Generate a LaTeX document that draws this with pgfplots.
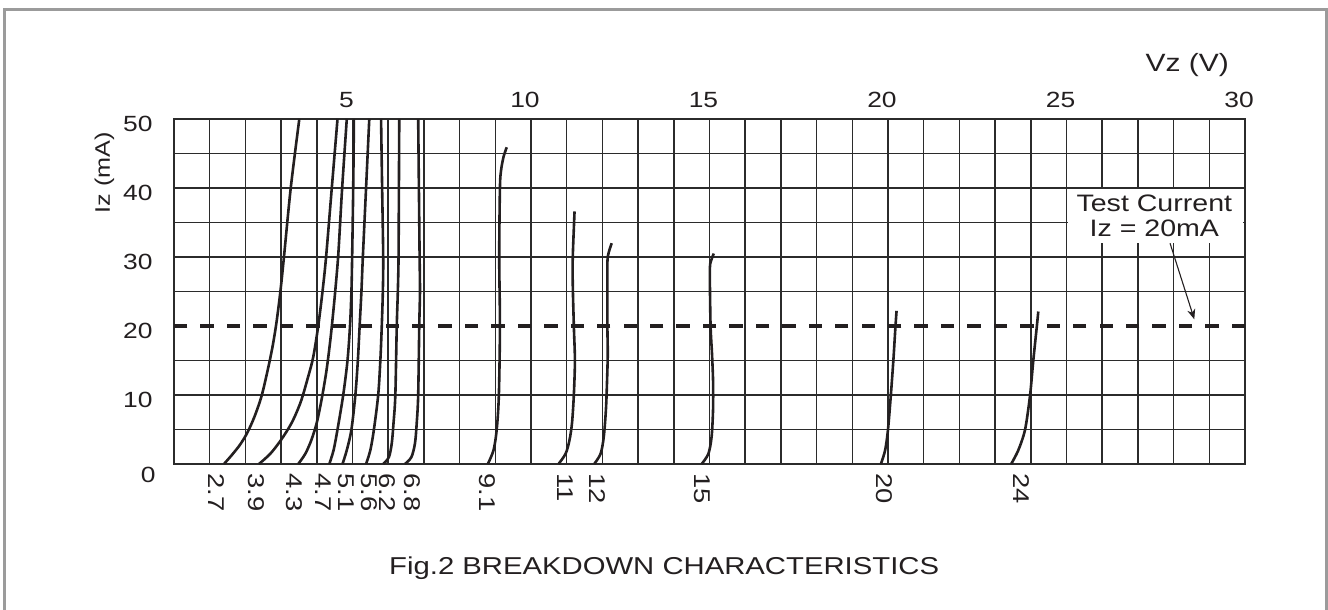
\documentclass[border=0pt]{standalone}
\usepackage{pgfplots}
\pgfplotsset{compat=1.18}
\usepackage{fontspec}
\setmainfont{Liberation Sans}[FakeStretch=1.2]
\usetikzlibrary{arrows.meta}
\definecolor{ink}{HTML}{231F20}
\definecolor{gridc}{HTML}{2B2B2B}
\definecolor{framec}{HTML}{9B9B9B}
\pgfplotsset{zc/.style={draw=ink, line width=1.3pt, smooth, tension=0.5}}

\begin{document}
\begin{tikzpicture}
\useasboundingbox (-87pt,-73pt) rectangle (577pt,232pt);
\draw[framec, line width=1.5pt] (-84.5pt,-90pt) -- (-84.5pt,227pt) -- (576pt,227pt) -- (576pt,-90pt);
\begin{axis}[
  at={(0,0)}, anchor=south west, scale only axis,
  width=535.5pt, height=172.5pt,
  xmin=0, xmax=30, ymin=0, ymax=50,
  xtick={0,1,...,30},
  xticklabels={,,,,,5,,,,,10,,,,,15,,,,,20,,,,,25,,,,,30},
  ytick={0,5,10,15,25,30,35,40,45,50},
  yticklabels={,,10,,,30,,40,,50},
  extra y ticks={20}, extra y tick labels={20},
  extra y tick style={ymajorgrids=false},
  xticklabel pos=upper,
  major tick length=0pt,
  xmajorgrids, ymajorgrids,
  major grid style={gridc, line width=0.75pt},
  axis line style={gridc, line width=0.75pt},
  tick label style={font=\fontsize{11}{13}\selectfont, text=ink},
  xticklabel style={anchor=south, inner sep=0pt, yshift=5.5pt, xshift=-3pt},
  yticklabel style={anchor=east, inner sep=0pt, xshift=-10.5pt, yshift=-2.4pt},
  clip=false,
]
% breakdown curves
\addplot[zc] coordinates {(1.40,0)(1.62,1.3)(1.85,2.8)(2.05,4.5)(2.25,6.8)(2.45,9.8)(2.62,13.5)(2.76,17)(2.87,20.5)(2.98,25)(3.08,30)(3.27,40)(3.51,50)};
\addplot[zc] coordinates {(2.38,0)(2.70,1.5)(3.00,3.5)(3.30,6)(3.55,9)(3.75,12.5)(3.90,15.5)(4.04,20)(4.16,25)(4.26,30)(4.42,40)(4.58,50)};
\addplot[zc] coordinates {(3.48,0)(3.68,1.5)(3.85,3.5)(4.00,6)(4.14,9.5)(4.27,13.5)(4.38,18)(4.47,22.5)(4.55,27)(4.61,31)(4.71,40)(4.84,50)};
\addplot[zc] coordinates {(4.35,0)(4.47,2)(4.58,5)(4.74,10)(4.86,15)(4.93,20)(4.97,25)(4.99,30)(5.02,40)(5.04,50)};
\addplot[zc] coordinates {(4.72,0)(4.84,2)(4.97,5)(5.08,10)(5.15,15)(5.20,20)(5.25,25)(5.29,30)(5.38,40)(5.47,50)};
\addplot[zc] coordinates {(5.38,0)(5.50,2)(5.60,5)(5.72,10)(5.78,15)(5.82,20)(5.85,25)(5.86,30)(5.83,40)(5.80,50)};
\addplot[zc] coordinates {(5.86,0)(6.02,1)(6.10,3)(6.15,6)(6.20,10)(6.24,20)(6.27,25)(6.29,30)(6.30,40)(6.31,50)};
\addplot[zc] coordinates {(6.47,0)(6.65,1)(6.75,3)(6.80,6)(6.84,10)(6.87,20)(6.89,25)(6.88,30)(6.86,40)(6.84,50)};
\addplot[zc] coordinates {(8.79,0)(8.95,2)(9.04,5)(9.10,10)(9.13,20)(9.11,30)(9.13,40)(9.16,42.5)(9.23,44.5)(9.32,45.9)};
\addplot[zc] coordinates {(10.77,0)(10.97,1.5)(11.08,3.5)(11.15,6)(11.20,10)(11.23,15)(11.20,20)(11.17,26)(11.17,30)(11.22,36.6)};
\addplot[zc] coordinates {(11.77,0)(11.95,1.5)(12.04,4)(12.10,8)(12.13,12)(12.15,16)(12.14,20)(12.14,27)(12.15,30)(12.26,32)};
\addplot[zc] coordinates {(14.78,0)(14.97,1.5)(15.06,4)(15.10,8)(15.10,12)(15.07,16)(15.03,20)(15.01,27)(15.02,29)(15.12,30.5)};
\addplot[zc] coordinates {(19.80,0)(19.92,2)(20.00,5)(20.08,10)(20.15,15)(20.21,20)(20.24,22.2)};
\addplot[zc] coordinates {(23.45,0)(23.65,2)(23.84,5)(23.98,10)(24.07,15)(24.17,20)(24.21,22.1)};

% test current line, Iz = 20 mA, drawn as short dashes
\addplot[only marks, mark=-, mark size=3.33pt, mark options={draw=ink, line width=1.7pt}, forget plot] coordinates {
(0.187,20)(0.927,20)(1.668,20)(2.409,20)(3.149,20)(3.890,20)(4.631,20)(5.371,20)(6.112,20)(6.853,20)
(7.594,20)(8.334,20)(9.075,20)(9.816,20)(10.556,20)(11.297,20)(12.038,20)(12.778,20)(13.519,20)(14.260,20)
(15.001,20)(15.741,20)(16.482,20)(17.223,20)(17.963,20)(18.704,20)(19.445,20)(20.186,20)(20.926,20)(21.667,20)
(22.408,20)(23.148,20)(23.889,20)(24.630,20)(25.370,20)(26.111,20)(26.852,20)(27.593,20)(28.333,20)(29.074,20)
(29.815,20)};

% zener voltage labels
\begin{scope}[every node/.style={rotate=-90, anchor=west, inner sep=0pt, text=ink, font=\fontsize{11.4}{13}\selectfont}]
\node at ([yshift=-4.5pt]axis cs:1.20,0) {2.7};
\node at ([yshift=-4.5pt]axis cs:2.32,0) {3.9};
\node at ([yshift=-4.5pt]axis cs:3.36,0) {4.3};
\node at ([yshift=-4.5pt]axis cs:4.17,0) {4.7};
\node at ([yshift=-4.5pt]axis cs:4.82,0) {5.1};
\node at ([yshift=-4.5pt]axis cs:5.46,0) {5.6};
\node at ([yshift=-4.5pt]axis cs:5.97,0) {6.2};
\node at ([yshift=-4.5pt]axis cs:6.69,0) {6.8};
\node at ([yshift=-4.5pt]axis cs:8.77,0) {9.1};
\node at ([yshift=-4.5pt]axis cs:10.95,0) {11};
\node at ([yshift=-4.5pt]axis cs:11.85,0) {12};
\node at ([yshift=-4.5pt]axis cs:14.80,0) {15};
\node at ([yshift=-4.5pt]axis cs:19.90,0) {20};
\node at ([yshift=-4.5pt]axis cs:23.75,0) {24};
\end{scope}

% zero label sits lower than the others
\node[anchor=east, inner sep=0pt, text=ink, font=\fontsize{11}{13}\selectfont] at ([xshift=-9pt,yshift=-5.5pt]axis cs:0,0) {0};

% annotation
\fill[white] (axis cs:25.04,32.1) rectangle (axis cs:29.93,39.9);
\node[align=center, inner sep=0pt, text=ink, font=\fontsize{11.9}{12.5}\selectfont] at (axis cs:27.46,35.9) {Test Current\\Iz = 20mA};
\draw[ink, line width=0.55pt, -{Stealth[length=5pt, width=4pt, inset=1.5pt]}] (axis cs:27.9,32.0) -- (axis cs:28.58,20.97);

\node[text=ink, font=\fontsize{12.5}{14}\selectfont] at (axis cs:28.38,57.8) {Vz (V)};
\node[rotate=90, text=ink, font=\fontsize{10.5}{12}\selectfont] at (axis cs:-1.95,42.2) {Iz (mA)};
\node[text=ink, font=\fontsize{12.2}{14}\selectfont] at (axis cs:13.73,-15.07) {Fig.2 BREAKDOWN CHARACTERISTICS};
\end{axis}
\end{tikzpicture}
\end{document}
